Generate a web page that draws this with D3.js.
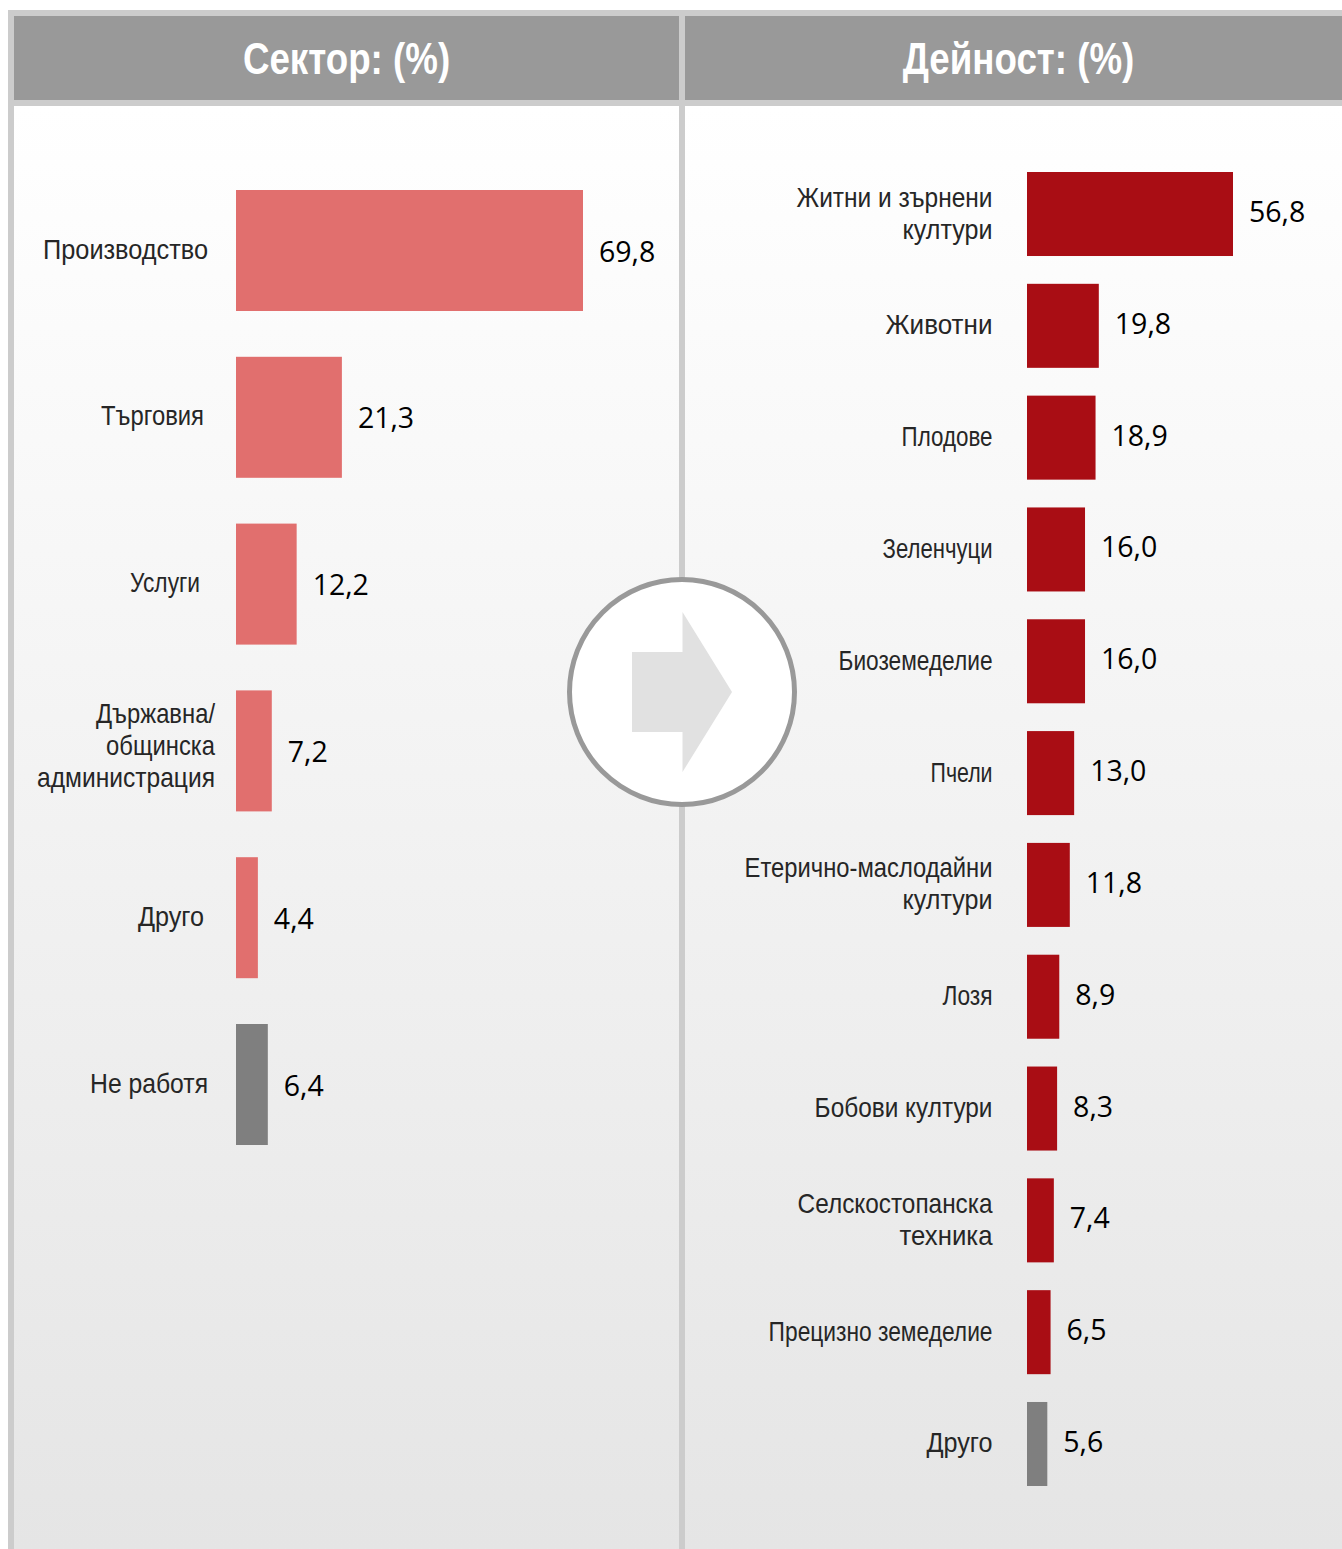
<!DOCTYPE html>
<html lang="bg"><head><meta charset="utf-8"><script src="https://cdn.jsdelivr.net/npm/d3@7"></script>
<style>html,body{margin:0;background:#fff;overflow:hidden}svg{display:block}</style></head><body><svg id="c" width="1342" height="1549"></svg>
<script>
// Data
const sectorTitle = "Сектор: (%)";
const activityTitle = "Дейност: (%)";
const sectorLabels = [["Производство"],["Търговия"],["Услуги"],["Държавна/","общинска","администрация"],["Друго"],["Не работя"]];
const sectorValues = [69.8,21.3,12.2,7.2,4.4,6.4];
const sectorEmphasis = [false,false,false,false,false,true];
const activityLabels = [["Житни и зърнени","култури"],["Животни"],["Плодове"],["Зеленчуци"],["Биоземеделие"],["Пчели"],["Етерично-маслодайни","култури"],["Лозя"],["Бобови култури"],["Селскостопанска","техника"],["Прецизно земеделие"],["Друго"]];
const activityValues = [56.8,19.8,18.9,16.0,16.0,13.0,11.8,8.9,8.3,7.4,6.5,5.6];
const activityEmphasis = [false,false,false,false,false,false,false,false,false,false,false,true];

// Layout
const W=1342,H=1549;
const sectorLabelEnds=[208,204,200,215,204,208];
const sectorLabelShift=[-1,-1,-1,-5,-1,-1];
const sectorLineWidths=[[165],[103],[70],[119,109,178],[66],[118]];
const activityLineWidths=[[196,90],[107],[91],[110],[154],[62],[248,90],[50],[178],[195,93],[224],[66]];
const fontLabel='"Liberation Sans"', fontValue='"Open Sans"';
const svg=d3.select("#c");
const defs=svg.append("defs");
const g=defs.append("linearGradient").attr("id","bg").attr("gradientUnits","userSpaceOnUse").attr("x1",0).attr("x2",0).attr("y1",106).attr("y2",H);
g.append("stop").attr("offset",0).attr("stop-color","#ffffff");
g.append("stop").attr("offset",1).attr("stop-color","#e5e5e5");

svg.append("rect").attr("x",8).attr("y",10).attr("width",W-8).attr("height",H-10).attr("fill","#cccccc");
[[14,665],[685,W-685]].forEach(([x,w])=>{
  svg.append("rect").attr("x",x).attr("y",16).attr("width",w).attr("height",84).attr("fill","#999999");
  svg.append("rect").attr("x",x).attr("y",106).attr("width",w).attr("height",H-106).attr("fill","url(#bg)");
});
[[346.5,sectorTitle],[1018.5,activityTitle]].forEach(([x,t])=>{
  svg.append("text").attr("transform",`translate(${x},74) scale(0.835,1)`).attr("text-anchor","middle")
   .style("font-family",fontLabel).style("font-weight",700).style("font-size","44px").attr("fill","#fff").text(t);
});

function panel(labels,values,emph,o){
  const y=d3.scaleBand().domain(d3.range(values.length)).range(o.yRange).paddingInner(o.pad).paddingOuter(0);
  const x=d3.scaleLinear().domain([0,o.xMax]).range([o.x0,o.x1]);
  const row=svg.append("g").selectAll("g").data(values).join("g");
  row.append("rect").attr("x",x(0)).attr("y",(d,i)=>y(i)).attr("width",d=>x(d)-x(0)).attr("height",y.bandwidth())
    .attr("fill",(d,i)=>emph[i]?"#7f7f7f":o.color);
  row.append("text").attr("x",d=>x(d)+16).attr("y",(d,i)=>y(i)+y.bandwidth()/2+o.valDy)
    .style("font-family",fontValue).style("font-size","28.5px").attr("fill","#000")
    .text(d=>d3.format(".1f")(d).replace(".",","));
  row.each(function(d,i){
    const ls=labels[i],cy=y(i)+y.bandwidth()/2+(o.shifts?o.shifts[i]:o.shift);
    ls.forEach((t,k)=>{
      const tx=d3.select(this).append("text").attr("text-anchor","end")
        .style("font-family",fontLabel).style("font-size","28.5px").attr("fill","#262626").text(t);
      const sx=o.widths[i][k]/tx.node().getComputedTextLength();
      tx.attr("transform",`translate(${o.ends?o.ends[i]:o.end},${cy+(k-(ls.length-1)/2)*32+9}) scale(${sx},1)`);
    });
  });
}
panel(sectorLabels,sectorValues,sectorEmphasis,{yRange:[190,1145],pad:45.8/166.8,x0:236,x1:583,xMax:69.8,color:"#e16f6e",ends:sectorLabelEnds,shifts:sectorLabelShift,widths:sectorLineWidths,valDy:11});
panel(activityLabels,activityValues,activityEmphasis,{yRange:[172,1486],pad:27.8/111.8,x0:1027,x1:1233,xMax:56.8,color:"#a90d14",end:992.5,shift:-0.5,widths:activityLineWidths,valDy:8});

// Centre badge
svg.append("circle").attr("cx",682).attr("cy",692).attr("r",112.5).attr("fill","#fff").attr("stroke","#999999").attr("stroke-width",5);
svg.append("path").attr("d",d3.line()([[632,652],[682.5,652],[682.5,612],[732,692],[682.5,772],[682.5,732],[632,732]])+"Z").attr("fill","#e1e1e1");
</script></body></html>
